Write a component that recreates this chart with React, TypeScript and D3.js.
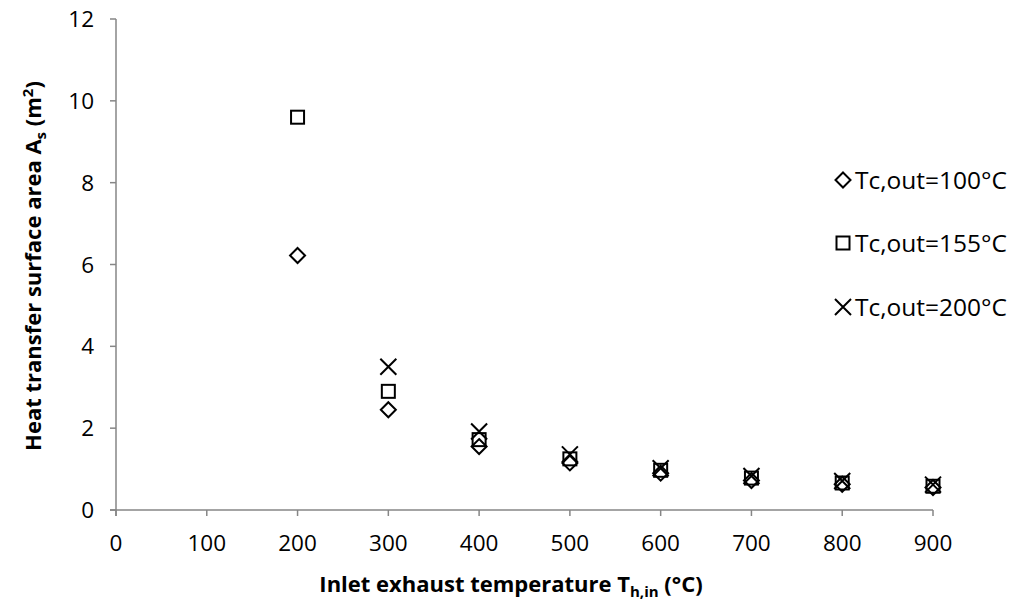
import React from "react";
import * as d3 from "d3";

const temps = [200, 300, 400, 500, 600, 700, 800, 900];
const tc100 = [6.22, 2.45, 1.55, 1.15, 0.9, 0.72, 0.63, 0.55];
const tc155 = [9.6, 2.9, 1.72, 1.25, 0.97, 0.78, 0.66, 0.58];
const tc200: (number | null)[] = [null, 3.5, 1.92, 1.36, 1.02, 0.83, 0.71, 0.62];
const xTicks = [0, 100, 200, 300, 400, 500, 600, 700, 800, 900];
const yTicks = [0, 2, 4, 6, 8, 10, 12];
const seriesNames = ["Tc,out=100°C", "Tc,out=155°C", "Tc,out=200°C"];

const W = 1026, H = 615;
const FONT = "'Open Sans', 'Liberation Sans', sans-serif";
const AXIS = "#868686";

function marker(kind: number, cx: number, cy: number, key: string) {
  const common = { fill: "none", stroke: "#000", strokeWidth: 2, key };
  if (kind === 0) {
    const r = 7.5;
    return <path {...common} d={`M${cx},${cy - r}L${cx + r},${cy}L${cx},${cy + r}L${cx - r},${cy}Z`} />;
  }
  if (kind === 1) {
    const r = 6.5;
    return <rect {...common} x={cx - r} y={cy - r} width={2 * r} height={2 * r} />;
  }
  const r = 8;
  return <path {...common} d={`M${cx - r},${cy - r}L${cx + r},${cy + r}M${cx + r},${cy - r}L${cx - r},${cy + r}`} />;
}

export default function App() {
  const x = d3.scaleLinear().domain([0, 900]).range([116, 933]);
  const y = d3.scaleLinear().domain([0, 12]).range([510, 19]);
  const series = [tc100, tc155, tc200];
  const legendY = [180, 243, 307];

  return (
    <svg width={W} height={H} style={{ position: "absolute", left: 0, top: 0, background: "#fff" }} fontFamily={FONT}>
      <rect width={W} height={H} fill="#fff" />
      {/* axes */}
      <line x1={x(0)} x2={x(0)} y1={y(12)} y2={y(0) + 6} stroke={AXIS} strokeWidth={1.5} />
      <line x1={x(0) - 6} x2={x(900)} y1={y(0)} y2={y(0)} stroke={AXIS} strokeWidth={1.5} />
      {yTicks.map((t) => (
        <g key={"y" + t}>
          <line x1={x(0) - 6} x2={x(0)} y1={y(t)} y2={y(t)} stroke={AXIS} strokeWidth={1.5} />
          <text x={94} y={y(t)} dy="0.36em" textAnchor="end" fontSize={22.5} fill="#000">{t}</text>
        </g>
      ))}
      {xTicks.map((t) => (
        <g key={"x" + t}>
          <line x1={x(t)} x2={x(t)} y1={y(0)} y2={y(0) + 6} stroke={AXIS} strokeWidth={1.5} />
          <text x={x(t)} y={551} textAnchor="middle" fontSize={22.5} fill="#000">{t}</text>
        </g>
      ))}
      {/* markers */}
      {series.map((s, si) =>
        temps.map((tv, i) => (s[i] == null ? null : marker(si, x(tv), y(s[i] as number), `m${si}-${i}`)))
      )}
      {/* legend */}
      {seriesNames.map((n, i) => (
        <g key={"l" + i}>
          {marker(i, 843, legendY[i], "lm" + i)}
          <text x={855} y={legendY[i]} dy="0.36em" fontSize={24.5} fill="#000">{n}</text>
        </g>
      ))}
      {/* titles */}
      <text x={511} y={592} textAnchor="middle" fontSize={22} fontWeight="bold" fill="#000">
        Inlet exhaust temperature T<tspan fontSize={15} dy={5}>h,in</tspan><tspan dy={-5}> (°C)</tspan>
      </text>
      <text transform={`translate(41,266) rotate(-90)`} textAnchor="middle" fontSize={22} fontWeight="bold" fill="#000">
        Heat transfer surface area A<tspan fontSize={15} dy={5}>s</tspan><tspan dy={-5}> (m</tspan><tspan fontSize={15} dy={-8}>2</tspan><tspan dy={8}>)</tspan>
      </text>
    </svg>
  );
}
